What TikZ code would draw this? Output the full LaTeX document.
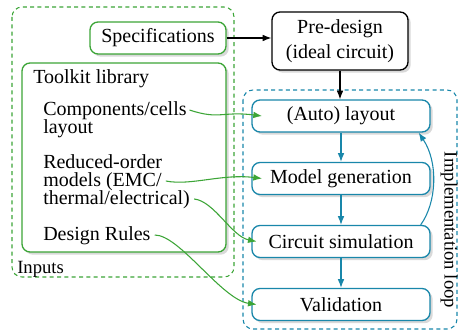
\documentclass[tikz,border=0pt]{standalone}
\usepackage{fontspec}
\setmainfont{Liberation Serif}
\usetikzlibrary{arrows.meta,shadows}
\definecolor{ingreen}{RGB}{60,165,55}
\definecolor{loopblue}{RGB}{25,135,170}
\begin{document}
\begin{tikzpicture}[x=0.75pt,y=-0.75pt,
  every node/.style={font=\fontsize{15}{18}\selectfont, inner sep=0pt},
  box/.style={draw, line width=1pt, rounded corners=6pt, fill=white,
    drop shadow={opacity=0.3, shadow xshift=2pt, shadow yshift=-2pt}},
  greenbox/.style={box, draw=ingreen},
  blackbox/.style={box, draw=black},
  bluebox/.style={box, draw=loopblue, minimum width=133.5pt, minimum height=24pt},
  txt/.style={anchor=west, text height=10.5pt, text depth=2.5pt},
  smalltxt/.style={font=\fontsize{14}{16}\selectfont},
  frame/.style={line width=0.8pt, dash pattern=on 3pt off 2.5pt, rounded corners=7.5pt},
  conn/.style={line width=0.8pt, -{Latex[length=6.5pt,width=5pt]}},
]
\useasboundingbox (0,0) rectangle (459,331);

% dashed frames
\draw[frame, draw=ingreen] (12,7) rectangle (234,277);
\draw[frame, draw=loopblue] (243,90) rectangle (457,329);

% input side
\node[greenbox, minimum width=102pt, minimum height=24pt] (spec) at (158,38) {Specifications};
\node[greenbox, minimum width=153pt, minimum height=141.75pt] (tool) at (124,157.5) {};
\node[txt] (tklabel) at (33,78) {Toolkit library};
\node[txt] (comp1) at (43,110) {Components/cells};
\node[txt] (comp2) at (43,128) {layout};
\node[txt] (red1) at (43,163) {Reduced-order};
\node[txt] (red2) at (43,181) {models (EMC/};
\node[txt] (red3) at (43,199) {thermal/electrical)};
\node[txt] (rules) at (43,235) {Design Rules};
\node[txt, smalltxt] (inputs) at (17,268) {Inputs};

% pre-design
\node[blackbox, minimum width=102pt, minimum height=43.5pt, align=center,
  font=\fontsize{15}{18.75}\selectfont] (pre) at (340,41) {Pre-design\\(ideal circuit)};

% implementation loop
\node[bluebox] (auto) at (341,116) {(Auto) layout};
\node[bluebox] (model) at (341,178.5) {Model generation};
\node[bluebox] (circ) at (341,241.5) {Circuit simulation};
\node[bluebox] (valid) at (341,304.5) {Validation};
\node[smalltxt, rotate=-90] (looplabel) at (449,230) {Implementation loop};

% connectors
\draw[conn] (spec.east) -- (spec.east -| pre.west);
\draw[conn] (pre.south) -- (pre.south |- auto.north);
\draw[conn, loopblue] (auto) -- (model);
\draw[conn, loopblue] (model) -- (circ);
\draw[conn, loopblue] (circ) -- (valid);
\draw[conn, loopblue] ([xshift=-7.5pt]circ.north east) .. controls +(16,-22) and +(20,30) .. ([xshift=-9pt]auto.south east);

\draw[conn, ingreen] ([xshift=2pt]comp1.east) .. controls +(30,10) and +(-40,-5) .. ([xshift=8pt]auto.west);
\draw[conn, ingreen] ([xshift=3pt]red2.east) .. controls +(25,5) and +(-40,-5) .. ([xshift=8pt]model.west);
\draw[conn, ingreen] ([xshift=3pt]red3.east) .. controls +(20,2) and +(-25,-5) .. ([xshift=4pt]circ.west);
\draw[conn, ingreen] ([xshift=3pt]rules.east) .. controls +(25,0) and +(-35,-5) .. ([xshift=4pt]valid.west);
\end{tikzpicture}
\end{document}
